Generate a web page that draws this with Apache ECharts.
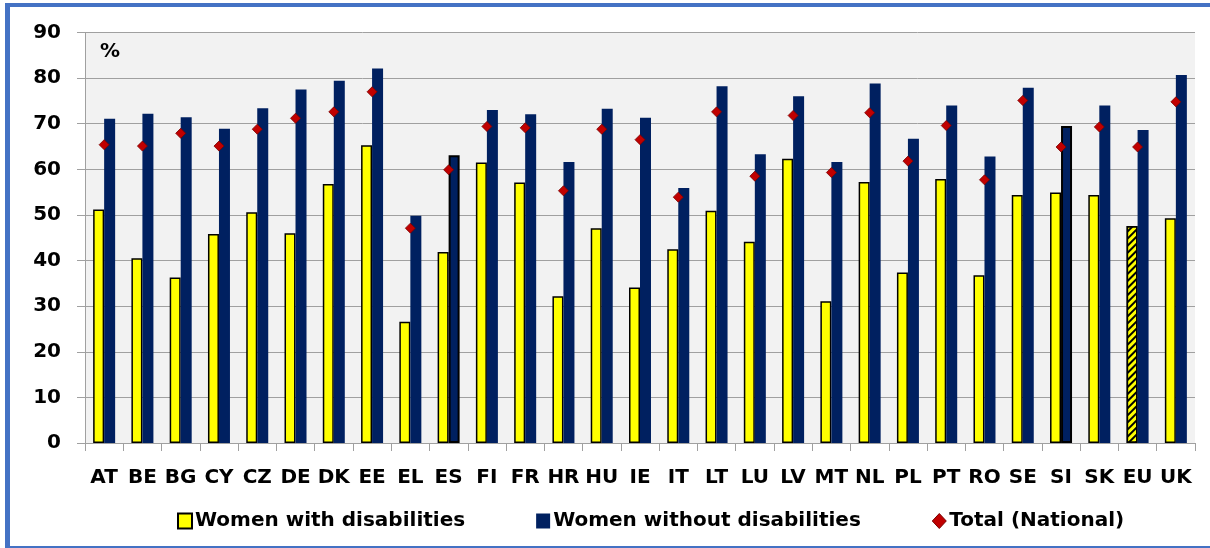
<!DOCTYPE html>
<html>
<head>
<meta charset="utf-8">
<script src="https://cdn.jsdelivr.net/npm/echarts@6/dist/echarts.min.js"></script>
<style>
html,body{margin:0;padding:0;background:#fff;overflow:hidden;}
#chart{position:absolute;left:0;top:0;width:1210px;height:548px;}
#frame{position:absolute;left:5px;top:3px;width:1300px;height:545px;box-sizing:border-box;
border-left:5px solid #4472C4;border-top:4px solid #4472C4;border-bottom:2px solid #4472C4;border-right:none;pointer-events:none;}
</style>
</head>
<body>
<div id="chart"></div>
<div id="frame"></div>
<script>
const categories = ['AT','BE','BG','CY','CZ','DE','DK','EE','EL','ES','FI','FR','HR','HU','IE','IT','LT','LU','LV','MT','NL','PL','PT','RO','SE','SI','SK','EU','UK'];
const withDisabilities = [51.2,40.5,36.3,45.8,50.6,46.0,56.8,65.3,26.6,41.9,61.5,57.1,32.2,47.1,34.1,42.5,50.9,44.1,62.3,31.1,57.2,37.4,57.9,36.8,54.4,54.9,54.4,47.6,49.3];
const withoutDisabilities = [71.1,72.2,71.4,68.9,73.4,77.5,79.4,82.1,49.8,63.1,73.0,72.1,61.6,73.3,71.3,55.9,78.2,63.3,76.0,61.6,78.8,66.7,74.0,62.8,77.9,69.5,74.0,68.6,80.7];
const totalNational = [65.4,65.1,67.9,65.1,68.8,71.2,72.6,77.0,47.1,59.9,69.4,69.1,55.3,68.8,66.5,53.9,72.6,58.5,71.8,59.3,72.4,61.8,69.6,57.7,75.1,64.9,69.3,64.9,74.8];
const yTicks = [0,10,20,30,40,50,60,70,80,90];

const FONT = 'DejaVu Sans';
const outlinedNavy = ['ES','SI'];
const hatchedYellow = ['EU'];

const yellowData = withDisabilities.map((v,i)=>{
  const o = {value:v};
  if (hatchedYellow.includes(categories[i])) {
    o.itemStyle = {decal:{color:'#000000',symbol:'rect',symbolSize:1,dashArrayX:[1,0],dashArrayY:[2,3],rotation:-Math.PI/4}};
  }
  return o;
});
const navyData = withoutDisabilities.map((v,i)=>{
  const o = {value:v};
  if (outlinedNavy.includes(categories[i])) {
    o.itemStyle = {borderColor:'#000000',borderWidth:2};
  }
  return o;
});

const chart = echarts.init(document.getElementById('chart'));
chart.setOption({
  animation:false,
  backgroundColor:'#ffffff',
  textStyle:{fontFamily:FONT},
  grid:{left:85,right:15,top:32.5,bottom:105,show:true,backgroundColor:'#F2F2F2',borderWidth:0},
  graphic:[{type:'text',left:100,top:42,style:{text:'%',font:'bold 20px "DejaVu Sans"',fill:'#000'}}],
  legend:{
    left:172, top:506, itemGap:71, itemWidth:14, itemHeight:15,
    textStyle:{fontFamily:FONT,fontWeight:'bold',fontSize:20,color:'#000',padding:[0,0,0,-2]},
    data:[
      {name:'Women with disabilities',icon:'rect',itemStyle:{color:'#FFFF00',borderColor:'#000',borderWidth:2}},
      {name:'Women without disabilities',icon:'rect',itemStyle:{color:'#002060',borderWidth:0}},
      {name:'Total (National)',icon:'diamond',itemStyle:{color:'#C00000',borderColor:'#7a0000',borderWidth:1}}
    ]
  },
  xAxis:{
    type:'category', data:categories,
    axisLine:{lineStyle:{color:'#A0A0A0',width:1}},
    axisTick:{show:true,length:8,lineStyle:{color:'#A0A0A0'}},
    axisLabel:{interval:0,margin:25,fontFamily:FONT,fontWeight:'bold',fontSize:20,color:'#000'},
    splitLine:{show:false}
  },
  yAxis:{
    type:'value', min:yTicks[0], max:yTicks[yTicks.length-1], interval:10,
    axisLine:{show:true,lineStyle:{color:'#A0A0A0',width:1}},
    axisTick:{show:true,length:8,lineStyle:{color:'#A0A0A0'}},
    axisLabel:{margin:24,fontFamily:FONT,fontWeight:'bold',fontSize:20,color:'#000'},
    splitLine:{show:true,lineStyle:{color:'#A0A0A0',width:1}}
  },
  series:[
    {name:'Women with disabilities',type:'bar',data:yellowData,barWidth:11,barGap:'0%',
     itemStyle:{color:'#FFFF00',borderColor:'#000000',borderWidth:1.5}},
    {name:'Women without disabilities',type:'bar',data:navyData,barWidth:11,barGap:'0%',
     itemStyle:{color:'#002060'}},
    {name:'Total (National)',type:'line',data:totalNational,symbol:'diamond',symbolSize:10,
     lineStyle:{width:0,opacity:0},itemStyle:{color:'#C00000',borderColor:'#7a0000',borderWidth:0.8},z:5}
  ]
});
</script>
</body>
</html>
